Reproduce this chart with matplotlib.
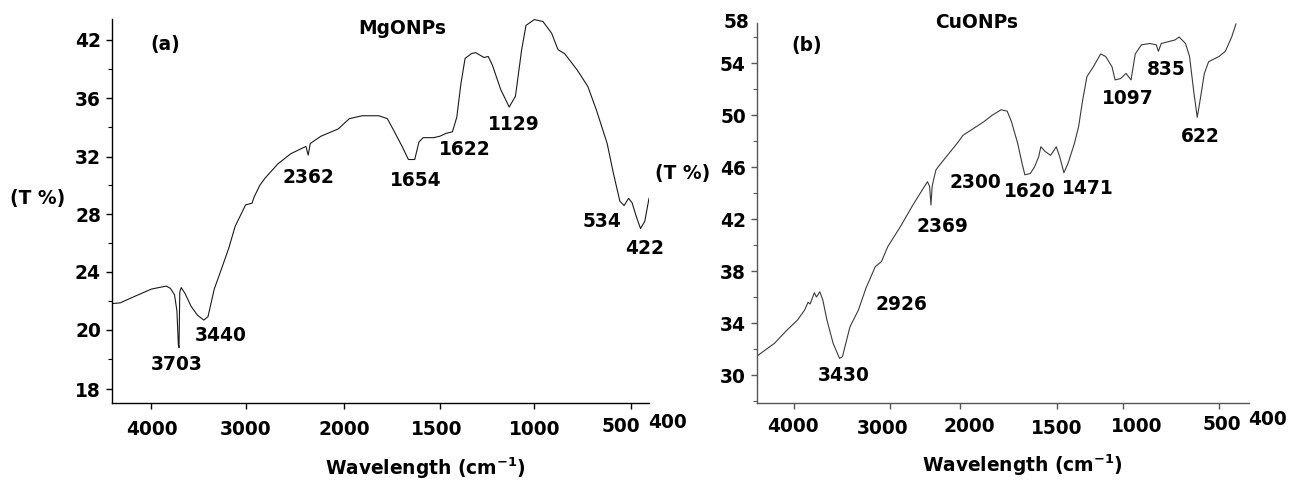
import numpy as np
import matplotlib.pyplot as plt
from matplotlib.ticker import FixedLocator, NullLocator
from matplotlib.transforms import ScaledTranslation

plt.rcParams['font.family'] = 'DejaVu Sans'
plt.rcParams['font.weight'] = 'bold'
plt.rcParams['mathtext.fontset'] = 'dejavusans'

# ---- MgONPs spectrum (panel a) ----
mg_wave = [4408, 4320, 4167, 3991, 3838, 3794, 3750, 3725, 3710, 3703, 3695, 3680,
           3640, 3575, 3509, 3443, 3399, 3333, 3246, 3180, 3114, 3004, 2939, 2917,
           2860, 2807, 2675, 2544, 2390, 2368, 2346, 2237, 2061, 1974, 1907, 1819,
           1775, 1742, 1698, 1665, 1632, 1610, 1588, 1533, 1500, 1467, 1434, 1411,
           1389, 1367, 1333, 1311, 1267, 1244, 1222, 1178, 1133, 1100, 1067, 1044,
           1000, 955, 910, 877, 843, 777, 722, 678, 622, 589, 556, 534, 511, 493,
           471, 449, 427, 405]
mg_trans = [21.8, 21.85, 22.3, 22.8, 23.0, 22.85, 22.4, 21.3, 19.5, 19.4, 22.6, 22.9,
            22.5, 21.6, 21.0, 20.67, 20.9, 22.8, 24.4, 25.65, 27.15, 28.65, 28.76, 29.2,
            30.0, 30.5, 31.5, 32.2, 32.7, 32.1, 32.9, 33.4, 33.9, 34.6, 34.8, 34.8,
            34.6, 33.8, 32.7, 31.8, 31.8, 33.0, 33.3, 33.3, 33.4, 33.6, 33.7, 34.7,
            37.5, 40.1, 40.6, 40.7, 40.2, 40.3, 39.4, 36.9, 35.4, 36.2, 41.0, 43.5,
            44.1, 43.9, 42.7, 41.0, 40.6, 38.9, 37.2, 35.2, 32.9, 30.8, 28.9, 28.6, 29.1, 28.8,
            27.84, 27.0, 27.5, 29.1]
mg_peaks = ['3703', '3440', '2362', '1654', '1622', '1129', '534', '422']
mg_peak_x = [3726, 3262, 2364, 1626, 1367, 1110, 649, 426]
mg_peak_y = [18.82, 19.8, 30.54, 30.31, 32.46, 34.17, 27.48, 25.58]
mg_yticks = [18, 20, 24, 28, 32, 36, 42]

# ---- CuONPs spectrum (panel b) ----
cu_wave = [4385, 4203, 4073, 3964, 3890, 3854, 3833, 3789, 3767, 3732, 3702, 3658,
           3594, 3527, 3497, 3419, 3331, 3253, 3156, 3092, 3026, 2857, 2677, 2529,
           2469, 2439, 2420, 2403, 2379, 2349, 2319, 2200, 2050, 1985, 1931, 1877,
           1833, 1789, 1757, 1735, 1702, 1680, 1665, 1637, 1615, 1593, 1582, 1560,
           1532, 1517, 1502, 1477, 1445, 1413, 1366, 1334, 1303, 1271, 1223, 1167,
           1129, 1081, 1058, 1017, 983, 957, 935, 903, 859, 826, 815, 800, 761, 729,
           707, 674, 653, 630, 613, 598, 576, 554, 500, 467, 434, 412]
cu_trans = [31.46, 32.44, 33.46, 34.23, 35.0, 35.6, 35.46, 36.33, 36.0, 36.4, 35.8, 34.23,
            32.44, 31.28, 31.41, 33.7, 35.0, 36.67, 38.33, 38.72, 39.87, 41.4, 43.08, 44.36,
            44.87, 44.5, 43.08, 44.5, 45.1, 45.77, 46.0, 46.8, 47.8, 48.46, 48.97, 49.5,
            50.0, 50.4, 50.3, 49.5, 47.8, 46.3, 45.4, 45.5, 46.0, 46.8, 47.56, 47.2,
            46.9, 47.2, 47.56, 46.8, 45.56, 46.3, 47.8, 49.1, 51.15, 52.95, 53.7, 54.7,
            54.5, 53.7, 52.7, 52.8, 53.2, 52.7, 54.7, 55.4, 55.5, 55.4, 54.9, 55.5, 55.65, 55.77,
            56.0, 55.5, 54.5, 51.67, 49.82, 51.15, 53.2, 54.1, 54.5, 54.9, 56.0, 57.0]
cu_peaks = ['3430', '2926', '2369', '2300', '1620', '1471', '1097', '835', '622']
cu_peak_x = [3483, 2843, 2257, 1922, 1641, 1261, 974, 772, 599]
cu_peak_y = [30.0, 35.46, 41.46, 44.79, 44.1, 44.31, 51.28, 53.52, 48.33]
cu_yticks = [30, 34, 38, 42, 46, 50, 54]

xticks = [4000, 3000, 2000, 1500, 1000, 500]

FS = 13.4


def piecewise(vals, pos):
    # piecewise linear mapping, increasing in value
    vals = np.asarray(vals, float)
    pos = np.asarray(pos, float)
    o = np.argsort(vals)
    v1, p1 = vals[o], pos[o]
    o = np.argsort(pos)
    p2, v2 = pos[o], vals[o]

    def fwd(x):
        return np.interp(x, v1, p1)

    def inv(p):
        return np.interp(p, p2, v2)
    return fwd, inv


def style_axis(ax, color):
    for s in ['top', 'right']:
        ax.spines[s].set_visible(False)
    for s in ['left', 'bottom']:
        ax.spines[s].set_color(color)
        ax.spines[s].set_linewidth(1.0)
    ax.tick_params(which='major', direction='out', length=4, width=1, color=color,
                   labelsize=FS)
    ax.tick_params(which='minor', direction='out', length=3, width=0.8, color=color)
    ax.tick_params(axis='x', pad=8)
    ax.tick_params(axis='y', pad=4)
    ax.xaxis.set_minor_locator(NullLocator())


def nudge_xlabels(ax, shifts):
    # small pixel offsets of the tick labels, as in the original figure
    for tick, (dx, dy) in zip(ax.xaxis.get_major_ticks(), shifts):
        off = ScaledTranslation(dx / 100, dy / 100, fig.dpi_scale_trans)
        tick.label1.set_transform(tick.label1.get_transform() + off)


fig = plt.figure(figsize=(12.98, 4.83), dpi=100)

# ---- panel a ----
ax1 = fig.add_axes([112 / 1298, (483 - 403.3) / 483, 537 / 1298, 384.3 / 483])
# x positions negated so the scale increases with wavenumber (axis is reversed)
xf, xi = piecewise([6000, 4000, 3000, 2000, 1500, 1000, 500, 0],
                   [40, -150.7, -246, -344.3, -440, -534.3, -630.7, -727.1])
ax1.set_xscale('function', functions=(xf, xi))
yf, yi = piecewise([10, 18, 20, 24, 28, 32, 36, 42, 50],
                   [-626.5, -389.3, -330, -271.7, -214.3, -156.7, -98.3, -40, 37.8])
ax1.set_yscale('function', functions=(yf, yi))
ax1.plot(mg_wave, mg_trans, color='#1a1a1a', lw=0.8)
ax1.set_xlim(4406, 405)
ax1.set_ylim(17.52, 44.16)
ax1.xaxis.set_major_locator(FixedLocator(xticks))
ax1.set_xticklabels([str(t) for t in xticks])
ax1.yaxis.set_major_locator(FixedLocator(mg_yticks))
ax1.set_yticklabels([str(t) for t in mg_yticks])
ax1.yaxis.set_minor_locator(FixedLocator([19, 22, 26, 30, 34, 39]))
style_axis(ax1, 'black')
nudge_xlabels(ax1, [(1, 0), (0, 0), (0, 0), (-3, 0), (0, 0), (-10, 3)])
for lab, x, y in zip(mg_peaks, mg_peak_x, mg_peak_y):
    ax1.text(x, y, lab, ha='center', va='center', fontsize=FS, fontweight='bold')
ax1.text(3850, 41.49, '(a)', ha='center', va='center', fontsize=FS, fontweight='bold')
ax1.text(1699, 43.2, 'MgONPs', ha='center', va='center', fontsize=FS, fontweight='bold')
ax1.text(1.035, -0.05, '400', transform=ax1.transAxes, ha='center', va='center',
         fontsize=FS, fontweight='bold')

# ---- panel b ----
ax2 = fig.add_axes([757 / 1298, (483 - 402.7) / 483, 492 / 1298, 380 / 483])
xf2, xi2 = piecewise([6000, 4000, 3000, 2000, 1500, 1000, 500, 0],
                     [-603, -795, -891, -961, -1057, -1123, -1219, -1315])
ax2.set_xscale('function', functions=(xf2, xi2))
ax2.plot(cu_wave, cu_trans, color='#3a3a3a', lw=0.8)
ax2.set_xlim(4385, 344)
ax2.set_ylim(27.87, 57.1)
ax2.xaxis.set_major_locator(FixedLocator(xticks))
ax2.set_xticklabels([str(t) for t in xticks])
ax2.yaxis.set_major_locator(FixedLocator(cu_yticks))
ax2.set_yticklabels([str(t) for t in cu_yticks])
ax2.yaxis.set_minor_locator(FixedLocator([28, 32, 36, 40, 44, 48, 52, 56]))
style_axis(ax2, '#555555')
nudge_xlabels(ax2, [(-1, 2), (-8, 0), (9, 2), (0, 0), (14, 2), (3, 4)])
for lab, x, y in zip(cu_peaks, cu_peak_x, cu_peak_y):
    ax2.text(x, y, lab, ha='center', va='center', fontsize=FS, fontweight='bold')
ax2.text(3865, 55.38, '(b)', ha='center', va='center', fontsize=FS, fontweight='bold')
ax2.text(1914, 57.1, 'CuONPs', ha='center', va='center', fontsize=FS, fontweight='bold')
ax2.text(-0.015, 1.0, '58', transform=ax2.transAxes, ha='right', va='center',
         fontsize=FS, fontweight='bold')
ax2.text(1.037, -0.045, '400', transform=ax2.transAxes, ha='center', va='center',
         fontsize=FS, fontweight='bold')

# axis titles
xlab = r'Wavelength (cm$^{\mathbf{-1}}$)'
fig.text(425 / 1298, 1 - 468 / 483, xlab, ha='center', va='center', fontsize=FS,
         fontweight='bold')
fig.text(1022 / 1298, 1 - 465 / 483, xlab, ha='center', va='center', fontsize=FS,
         fontweight='bold')
fig.text(38 / 1298, 1 - 199 / 483, '(T %)', ha='center', va='center', fontsize=FS,
         fontweight='bold')
fig.text(683 / 1298, 1 - 173 / 483, '(T %)', ha='center', va='center', fontsize=FS,
         fontweight='bold')

fig.savefig('out.png', dpi=100)
